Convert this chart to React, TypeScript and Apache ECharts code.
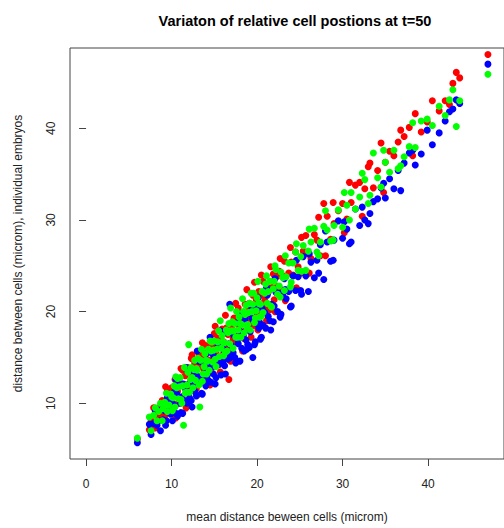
import React, { useEffect, useRef } from "react";
import * as echarts from "echarts";

// mean distance between cells (x), one value per cell pair
const meanDist = [
  6.0, 7.4, 7.6, 7.9, 8.1, 8.3, 8.5, 8.7, 8.9, 9.0, 9.2, 9.4, 9.5, 9.7, 9.9,
  10.0, 10.1, 10.2, 10.3, 10.4, 10.6, 10.7, 10.8, 10.9, 11.0, 11.2, 11.3, 11.4, 11.5, 11.6, 11.8, 11.9,
  12.0, 12.1, 12.2, 12.3, 12.5, 12.6, 12.7, 12.8, 12.9, 13.1, 13.2, 13.3, 13.4, 13.5, 13.7, 13.8, 13.9,
  14.0, 14.1, 14.2, 14.3, 14.4, 14.6, 14.7, 14.8, 14.9, 15.0, 15.2, 15.3, 15.4, 15.5, 15.6, 15.8, 15.9,
  16.0, 16.1, 16.2, 16.4, 16.5, 16.6, 16.7, 16.8, 17.0, 17.1, 17.2, 17.3, 17.4, 17.6, 17.7, 17.8, 17.9,
  18.0, 18.1, 18.2, 18.4, 18.5, 18.6, 18.7, 18.9, 19.0, 19.1, 19.2, 19.4, 19.5, 19.6, 19.8, 19.9,
  20.0, 20.2, 20.3, 20.4, 20.6, 20.7, 20.9, 21.0, 21.2, 21.3, 21.5, 21.7, 21.9,
  22.0, 22.2, 22.4, 22.6, 22.8, 23.0, 23.2, 23.4, 23.7, 24.0, 24.2, 24.5, 24.8, 25.1, 25.4, 25.7,
  26.0, 26.3, 26.7, 27.0, 27.4, 27.8, 28.2, 28.6, 29.0, 29.5, 30.0, 30.5, 31.0, 31.5,
  32.0, 32.6, 33.2, 33.6, 34.1, 34.5, 35.0, 35.5, 36.0, 36.5, 37.2, 37.8, 38.5,
  39.2, 39.9, 40.5, 41.3, 42.0, 42.5, 42.9, 43.3, 43.7, 47.0,
  9.3, 10.5, 11.1, 11.7, 12.4, 13.0, 13.6, 14.5, 15.1, 15.7,
  16.3, 16.9, 17.5, 18.3, 18.8, 19.3, 19.7, 20.1, 20.5, 21.1,
  21.6, 22.1, 22.7, 23.3, 23.9, 24.6, 25.2, 26.1, 27.2, 28.0,
  28.9, 30.2, 30.8, 32.3, 33.0, 34.8, 36.8, 38.2,
];

// embryo 1 (red)
const embryoRed = [
  6.1, 7.1, 8.2, 9.5, 7.3, 8.7, 9.5, 8.6, 10.3, 9.1, 8.6, 10.2, 11.3, 9.9, 9.5,
  11.7, 10.9, 8.9, 11.3, 12.6, 9.9, 11.3, 12.3, 12.7, 10.6, 12.1, 13.6, 10.3, 12.0, 13.0, 11.6, 13.9,
  12.1, 11.2, 13.4, 14.9, 12.8, 12.1, 14.4, 13.6, 11.6, 14.1, 15.4, 12.6, 14.0, 15.0, 15.5, 13.4, 14.8,
  16.3, 13.0, 14.7, 15.7, 14.2, 16.6, 14.8, 13.9, 16.1, 17.6, 15.5, 14.8, 17.1, 16.3, 14.3, 16.8, 18.1,
  15.3, 16.7, 17.7, 18.2, 16.1, 17.5, 12.6, 15.7, 17.5, 18.5, 17.0, 19.3, 17.5, 16.7, 18.9, 20.4, 18.2,
  17.5, 19.8, 19.0, 17.1, 19.5, 20.8, 18.0, 19.5, 20.5, 20.9, 18.8, 20.3, 21.8, 18.5, 20.3, 21.3,
  19.8, 22.2, 20.4, 19.5, 21.8, 23.3, 21.2, 20.5, 22.9, 22.1, 20.2, 22.7, 24.1,
  21.3, 22.8, 23.9, 24.4, 22.4, 23.9, 25.5, 22.3, 24.2, 25.4, 24.0, 26.5, 24.9, 24.2, 26.6, 28.3,
  26.3, 25.8, 28.4, 27.8, 26.1, 31.8, 30.4, 27.9, 29.6, 31.0, 31.8, 30.1, 31.9, 33.8,
  34.1, 33.4, 36.2, 33.5, 35.4, 38.4, 36.3, 37.5, 37.0, 38.5, 39.1, 40.1, 41.6,
  39.6, 40.7, 43.0, 41.9, 43.0, 42.6, 44.9, 46.1, 45.5, 48.05,
  11.8, 8.4, 13.8, 9.5, 15.3, 10.9, 16.6, 12.0, 18.4, 13.4,
  19.6, 14.6, 20.9, 15.7, 22.4, 17.2, 23.2, 18.0, 24.0, 19.0,
  24.9, 20.0, 25.8, 21.2, 27.0, 22.6, 28.1, 24.2, 30.3, 26.1,
  31.9, 28.6, 34.1, 30.4, 35.8, 33.0, 39.8, 37.0,
];

// embryo 2 (blue)
const embryoBlue = [
  5.7, 7.7, 6.6, 7.8, 9.1, 7.6, 8.1, 7.0, 9.4, 8.2, 9.2, 8.1, 10.6, 9.1, 8.8,
  10.1, 8.1, 9.8, 11.2, 9.0, 11.0, 8.6, 10.6, 12.3, 10.0, 10.7, 8.9, 12.1, 10.3, 11.6, 10.0, 13.5,
  11.2, 10.6, 12.3, 10.3, 12.1, 13.5, 11.3, 13.2, 10.8, 12.9, 14.6, 12.3, 12.9, 11.1, 14.4, 12.6, 13.9,
  11.9, 15.4, 13.1, 12.5, 14.2, 12.3, 14.0, 15.4, 13.2, 15.1, 12.8, 14.8, 16.5, 14.2, 14.8, 13.1, 16.3,
  14.5, 15.8, 14.1, 17.7, 15.4, 14.8, 16.5, 20.8, 16.3, 17.7, 15.5, 17.4, 15.0, 17.1, 18.8, 16.5, 17.1,
  14.6, 17.8, 16.0, 17.4, 15.7, 19.2, 16.9, 16.4, 18.1, 16.1, 17.8, 19.3, 15.0, 19.0, 16.7, 18.7,
  20.4, 18.2, 18.8, 17.0, 20.3, 18.5, 19.9, 18.2, 21.8, 19.5, 19.0, 20.8, 18.9,
  20.6, 22.1, 20.0, 22.0, 19.7, 21.8, 23.6, 21.4, 22.2, 20.6, 23.9, 22.3, 23.8, 22.3, 26.0, 23.9,
  22.2, 25.4, 23.7, 25.6, 27.3, 23.5, 27.6, 25.5, 27.8, 29.9, 28.0, 29.0, 27.6, 31.2,
  29.4, 30.0, 30.7, 32.0, 32.3, 33.5, 32.4, 34.5, 33.4, 35.4, 36.2, 37.3, 36.0,
  37.2, 39.8, 38.2, 39.5, 40.8, 41.8, 42.1, 43.1, 42.7, 47.0,
  7.6, 12.6, 9.0, 13.9, 9.6, 15.7, 11.0, 17.2, 12.1, 17.9,
  13.2, 15.0, 14.4, 19.9, 15.9, 20.6, 16.4, 21.5, 17.2, 22.6,
  18.0, 23.6, 19.4, 22.4, 20.5, 25.6, 21.9, 26.3, 24.2, 28.8,
  25.6, 29.8, 27.4, 31.4, 29.6, 34.0, 33.2, 37.6,
];

// embryo 3 (green)
const embryoGreen = [
  6.2, 8.5, 7.0, 8.7, 9.5, 8.1, 9.1, 10.0, 8.1, 9.4, 10.1, 11.1, 9.1, 9.8, 11.0,
  10.7, 9.2, 10.6, 11.9, 9.6, 11.7, 12.7, 10.5, 11.8, 12.8, 10.0, 11.9, 7.6, 13.9, 11.1, 12.0, 13.4,
  16.4, 11.2, 12.6, 13.9, 11.7, 13.7, 14.7, 12.5, 13.8, 14.9, 12.0, 9.6, 14.7, 15.9, 13.2, 14.0, 15.4,
  14.7, 13.2, 14.6, 15.9, 13.6, 15.7, 16.7, 14.5, 15.8, 16.8, 14.0, 15.9, 16.7, 17.9, 15.1, 16.0, 17.4,
  16.7, 15.2, 16.6, 18.0, 15.7, 17.7, 18.7, 16.5, 17.9, 18.9, 16.0, 17.9, 18.7, 20.0, 17.2, 18.0, 19.4,
  18.7, 17.2, 18.6, 20.0, 17.7, 19.7, 20.7, 18.6, 19.9, 20.9, 18.0, 20.0, 20.8, 22.0, 19.3, 20.1,
  21.5, 20.9, 19.4, 20.8, 22.2, 19.9, 22.0, 23.0, 20.9, 22.2, 23.3, 20.5, 22.5,
  23.3, 24.6, 21.9, 22.8, 24.3, 23.7, 22.3, 23.8, 25.3, 23.2, 25.3, 26.5, 24.5, 26.0, 27.2, 24.5,
  26.6, 27.6, 29.1, 26.5, 27.6, 29.3, 28.9, 27.7, 29.4, 31.1, 29.2, 31.6, 33.0, 31.2,
  32.5, 34.4, 32.7, 37.3, 34.6, 33.6, 36.3, 35.2, 37.6, 35.6, 36.9, 38.0, 37.9,
  40.8, 41.0, 40.3, 42.4, 41.4, 43.1, 44.2, 40.2, 43.0, 45.9,
  9.9, 12.9, 10.4, 11.2, 12.8, 13.6, 12.4, 16.8, 14.8, 19.0,
  15.6, 20.4, 17.2, 21.4, 18.3, 22.0, 18.8, 23.3, 19.5, 23.9,
  20.6, 25.0, 21.6, 26.1, 22.7, 27.4, 24.4, 29.0, 26.1, 31.0,
  27.8, 33.0, 30.0, 35.1, 31.8, 37.6, 35.9, 40.6,
];

const xTicks = [0, 10, 20, 30, 40];
const yTicks = [10, 20, 30, 40];

const FONT = "'Liberation Sans', Arial, sans-serif";

export default function App() {
  const ref = useRef<HTMLDivElement>(null);
  useEffect(() => {
    const chart = echarts.init(ref.current!, null, { renderer: "svg" });
    const mk = (ys: number[]) => meanDist.map((x, i) => [x, ys[i]]);
    const scatter = (name: string, ys: number[], color: string) => ({
      name,
      type: "scatter",
      data: mk(ys),
      symbol: "circle",
      symbolSize: 7,
      itemStyle: { color, opacity: 1 },
      emphasis: { disabled: true },
      clip: false,
    });
    chart.setOption({
      animation: false,
      textStyle: { fontFamily: FONT },
      title: {
        text: "Variaton of relative cell postions at t=50",
        left: 290,
        top: 8,
        textAlign: "center",
        textStyle: { fontSize: 14.5, fontWeight: "bold", color: "#000", fontFamily: FONT },
      },
      grid: {
        left: 70,
        top: 48,
        width: 441,
        height: 411,
        show: true,
        borderColor: "#444",
        borderWidth: 1,
        backgroundColor: "transparent",
      },
      xAxis: {
        type: "value",
        min: -1.88,
        max: 48.88,
        splitLine: { show: false },
        axisLine: { show: false },
        axisTick: { show: true, length: 7, customValues: xTicks, lineStyle: { color: "#444" } },
        axisLabel: { customValues: xTicks, margin: 19, fontSize: 12, color: "#222", fontFamily: FONT },
        name: "mean distance beween cells (microm)",
        nameLocation: "middle",
        nameGap: 52,
        nameTextStyle: { fontSize: 12, color: "#222", fontFamily: FONT },
      },
      yAxis: {
        type: "value",
        min: 3.92,
        max: 48.76,
        splitLine: { show: false },
        axisLine: { show: false },
        axisTick: { show: true, length: 7, customValues: yTicks, lineStyle: { color: "#444" } },
        axisLabel: { customValues: yTicks, rotate: 90, margin: 13, fontSize: 12, color: "#222", fontFamily: FONT },
        name: "distance between cells (microm), individual embryos",
        nameLocation: "middle",
        nameGap: 46,
        nameTextStyle: { fontSize: 12, color: "#222", fontFamily: FONT },
      },
      series: [
        scatter("embryo 1", embryoRed, "#FF0000"),
        scatter("embryo 2", embryoBlue, "#0000FF"),
        scatter("embryo 3", embryoGreen, "#00FF00"),
      ],
    });
    return () => chart.dispose();
  }, []);
  return (
    <div
      ref={ref}
      style={{ position: "absolute", left: 0, top: 0, width: 504, height: 528 }}
    />
  );
}
